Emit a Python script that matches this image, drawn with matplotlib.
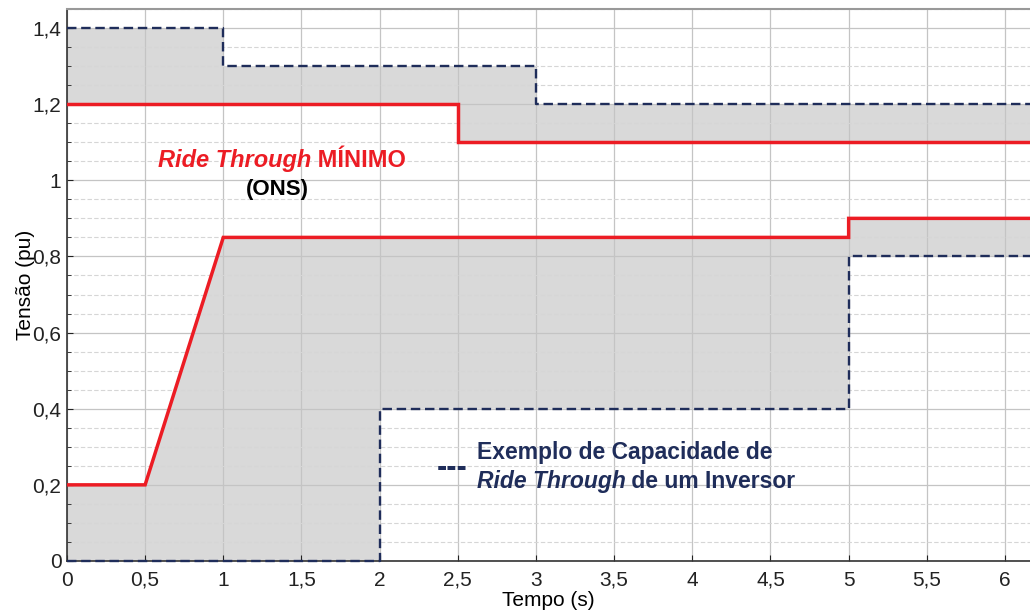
import numpy as np
import matplotlib
matplotlib.use("Agg")
import matplotlib.pyplot as plt
from matplotlib.ticker import MultipleLocator, FuncFormatter

plt.rcParams["font.family"] = ["Liberation Sans", "DejaVu Sans"]

# curva minima ONS (vermelha)
ons_inf_t = [0, 0.5, 1, 5, 5, 6.2]
ons_inf_v = [0.2, 0.2, 0.85, 0.85, 0.9, 0.9]
ons_sup_t = [0, 2.5, 2.5, 6.2]
ons_sup_v = [1.2, 1.2, 1.1, 1.1]

# exemplo de inversor (azul tracejada)
inv_inf_t = [0, 2, 2, 5, 5, 6.2]
inv_inf_v = [0, 0, 0.4, 0.4, 0.8, 0.8]
inv_sup_t = [0, 1, 1, 3, 3, 6.2]
inv_sup_v = [1.4, 1.4, 1.3, 1.3, 1.2, 1.2]

VERMELHO = "#ec1c24"
AZUL = "#1f2d5a"
CINZA = "#d9d9d9"

fig = plt.figure(figsize=(10.3, 6.16), dpi=100)
ax = fig.add_axes([0.065, 0.0893, 0.935, 0.8961])

# areas sombreadas entre as curvas
ax.fill(np.r_[ons_inf_t, inv_inf_t[::-1]], np.r_[ons_inf_v, inv_inf_v[::-1]],
        color=CINZA, lw=0, zorder=0.2)
ax.fill(np.r_[ons_sup_t, inv_sup_t[::-1]], np.r_[ons_sup_v, inv_sup_v[::-1]],
        color=CINZA, lw=0, zorder=0.2)

ax.plot(ons_inf_t, ons_inf_v, color=VERMELHO, lw=2.5, zorder=3, solid_joinstyle="miter")
ax.plot(ons_sup_t, ons_sup_v, color=VERMELHO, lw=2.5, zorder=3, solid_joinstyle="miter")
ax.plot(inv_inf_t, inv_inf_v, color=AZUL, lw=1.7, ls=(0, (4, 2)), zorder=4, clip_on=False)
ax.plot(inv_sup_t, inv_sup_v, color=AZUL, lw=1.7, ls=(0, (4, 2)), zorder=4)

ax.set_xlim(0, 6.16)
ax.set_ylim(0, 1.45)
ax.xaxis.set_major_locator(MultipleLocator(0.5))
ax.yaxis.set_major_locator(MultipleLocator(0.2))
ax.yaxis.set_minor_locator(MultipleLocator(0.05))
fmt = FuncFormatter(lambda v, p: f"{v:g}".replace(".", ","))
ax.xaxis.set_major_formatter(fmt)
ax.yaxis.set_major_formatter(fmt)

ax.set_axisbelow(True)
ax.grid(True, which="major", color="#c4c4c4", lw=0.9)
ax.grid(True, which="minor", axis="y", color="#d6d6d6", lw=0.8, ls=(0, (4, 2)))

ax.tick_params(which="both", direction="in", labelsize=15, colors="#222222")
ax.tick_params(axis="x", pad=7)
ax.tick_params(axis="y", pad=4)
ax.tick_params(which="major", length=4)
ax.tick_params(which="minor", length=3)
for s in ["left", "bottom"]:
    ax.spines[s].set_color("#333333")
    ax.spines[s].set_linewidth(1.2)
ax.spines["top"].set_color("#999999")
ax.spines["top"].set_linewidth(1.5)
ax.spines["right"].set_visible(False)

ax.set_xlabel("Tempo (s)", fontsize=15, labelpad=1)
ax.set_ylabel("Tensão (pu)", fontsize=15, labelpad=-2)

# anotacoes
t1 = ax.text(0.58, 1.053, "Ride Through", color=VERMELHO, fontsize=17, fontweight="bold",
             fontstyle="italic", ha="left", va="center")
ax.annotate(" MÍNIMO", xy=(1, 0.5), xycoords=t1, color=VERMELHO, fontsize=17,
            fontweight="bold", ha="left", va="center")
ax.text(1.344, 0.975, "(ONS)", color="black", fontsize=16, fontweight="bold",
        ha="center", va="center")

ax.text(2.463, 0.245, "---", color=AZUL, fontsize=22, fontweight="bold", ha="center", va="center")
ax.text(2.62, 0.286, "Exemplo de Capacidade de", color=AZUL, fontsize=16.5,
        fontweight="bold", ha="left", va="center")
t2 = ax.text(2.62, 0.21, "Ride Through", color=AZUL, fontsize=16.5, fontweight="bold",
             fontstyle="italic", ha="left", va="center")
ax.annotate(" de um Inversor", xy=(1, 0.5), xycoords=t2, color=AZUL, fontsize=16.5,
            fontweight="bold", ha="left", va="center")

fig.savefig("out.png", dpi=100)
